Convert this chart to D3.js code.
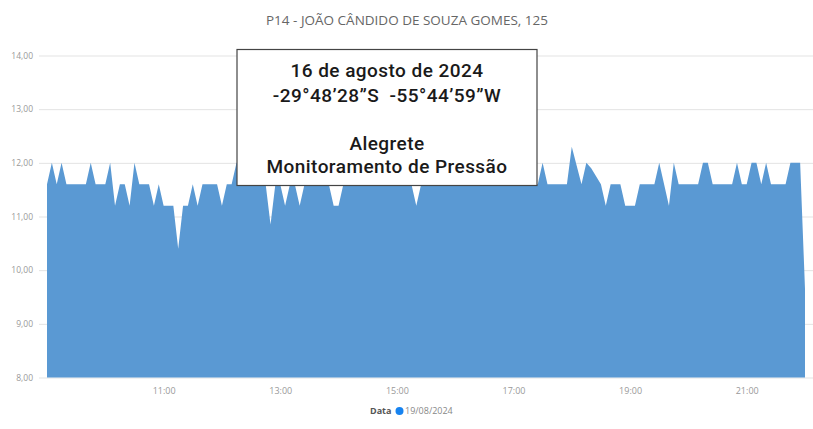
<!DOCTYPE html>
<html lang="pt-BR">
<head>
<meta charset="utf-8">
<title>P14 - Pressão</title>
<script src="https://cdn.jsdelivr.net/npm/d3@7"></script>
<style>
  html, body { margin: 0; padding: 0; background: #fff; }
  svg { display: block; }
</style>
</head>
<body>
<div id="chart"></div>
<script>
// series: one reading every 5 minutes, 09:00 -> 22:00
const chartTitle = "P14 - JOÃO CÂNDIDO DE SOUZA GOMES, 125";
const seriesName = "19/08/2024";
const startTime = "09:00";
const stepMinutes = 5;
const pressure = [
  11.6, 12.0, 11.6, 12.0, 11.6, 11.6, 11.6, 11.6, 11.6, 12.0,
  11.6, 11.6, 11.6, 12.0, 11.2, 11.6, 11.6, 11.2, 12.0, 11.6,
  11.6, 11.6, 11.2, 11.6, 11.2, 11.2, 11.2, 10.4, 11.2, 11.2,
  11.6, 11.2, 11.6, 11.6, 11.6, 11.6, 11.2, 11.6, 11.6, 12.0,
  12.0, 11.6, 12.0, 11.6, 11.6, 11.6, 10.85, 11.6, 11.6, 11.2,
  11.6, 11.6, 11.2, 11.6, 12.0, 11.6, 11.6, 12.0, 11.6, 11.2,
  11.2, 11.6, 11.6, 12.0, 11.6, 11.6, 11.6, 12.0, 11.6, 11.6,
  12.0, 11.6, 11.6, 11.6, 12.0, 11.6, 11.2, 11.6, 11.6, 12.0,
  11.6, 11.6, 11.6, 12.0, 11.6, 11.6, 12.0, 11.6, 11.6, 11.6,
  12.0, 11.6, 11.6, 12.0, 11.6, 11.6, 11.6, 12.0, 11.6, 11.6,
  11.6, 11.6, 12.0, 11.6, 11.6, 11.6, 11.6, 11.6, 12.3, 11.95,
  11.6, 12.0, 11.9, 11.75, 11.6, 11.2, 11.6, 11.6, 11.6, 11.2,
  11.2, 11.2, 11.6, 11.6, 11.6, 11.6, 12.0, 11.6, 11.2, 12.0,
  11.6, 11.6, 11.6, 11.6, 11.6, 12.0, 12.0, 11.6, 11.6, 11.6,
  11.6, 11.6, 12.0, 11.6, 11.6, 12.0, 12.0, 11.6, 12.0, 11.6,
  11.6, 11.6, 11.6, 12.0, 12.0, 12.0, 9.65
];
const yTicks = [8, 9, 10, 11, 12, 13, 14];
const xTickLabels = ["11:00", "13:00", "15:00", "17:00", "19:00", "21:00"];
const noteLines = [
  "16 de agosto de 2024",
  "-29°48’28”S  -55°44’59”W",
  "",
  "Alegrete",
  "Monitoramento de Pressão"
];

const W = 813, H = 429;
const parseTime = d3.timeParse("%H:%M");
const t0 = parseTime(startTime);
const records = pressure.map((v, i) => ({ time: d3.timeMinute.offset(t0, i * stepMinutes), value: v }));

const ptBR = d3.formatLocale({ decimal: ",", thousands: ".", grouping: [3], currency: ["R$", ""] });
const fmt = ptBR.format(".2f");

const svg = d3.select("#chart").append("svg")
  .attr("width", W).attr("height", H);

const x = d3.scaleTime()
  .domain([t0, parseTime("22:00")])
  .range([47, 805]);

const y = d3.scaleLinear()
  .domain([8, 14])
  .range([377.5, 55.5]);

// title
svg.append("text")
  .attr("x", 407).attr("y", 25)
  .attr("text-anchor", "middle")
  .style("font-family", "'Open Sans', sans-serif")
  .style("font-size", "13.5px")
  .style("fill", "#666")
  .text(chartTitle);

// y axis + gridlines
const yAxis = svg.append("g")
  .attr("transform", "translate(39,0)")
  .call(d3.axisLeft(y).tickValues(yTicks).tickFormat(fmt).tickSize(-(W - 39)).tickPadding(6));
yAxis.select(".domain").remove();
yAxis.selectAll("line").attr("stroke", "#e3e3e3");
yAxis.selectAll("text")
  .style("font-family", "'Open Sans', sans-serif")
  .style("font-size", "8.5px")
  .style("fill", "#999");

// area
const area = d3.area()
  .x(d => x(d.time))
  .y0(y(8))
  .y1(d => y(d.value));

svg.append("path")
  .datum(records)
  .attr("d", area)
  .attr("fill", "#5a99d3");

// x axis
const xAxis = svg.append("g")
  .attr("transform", "translate(0," + y(8) + ")")
  .call(d3.axisBottom(x).tickValues(xTickLabels.map(parseTime)).tickFormat(d3.timeFormat("%H:%M")).tickSize(0).tickPadding(10));
xAxis.select(".domain").remove();
xAxis.selectAll("text")
  .style("font-family", "'Open Sans', sans-serif")
  .style("font-size", "9px")
  .style("fill", "#999");

// legend
const legend = svg.append("g").attr("transform", "translate(370,411)");
legend.append("text")
  .attr("x", 0).attr("y", 3)
  .style("font-family", "'Open Sans', sans-serif")
  .style("font-size", "9px")
  .style("font-weight", "bold")
  .style("fill", "#555")
  .text("Data");
legend.append("circle")
  .attr("cx", 29.5).attr("cy", 0).attr("r", 4)
  .attr("fill", "#1783f0");
legend.append("text")
  .attr("x", 35).attr("y", 3)
  .style("font-family", "'Open Sans', sans-serif")
  .style("font-size", "9px")
  .style("fill", "#888")
  .text(seriesName);

// annotation box
const box = svg.append("g");
box.append("rect")
  .attr("x", 237).attr("y", 49.5)
  .attr("width", 300).attr("height", 136)
  .attr("fill", "#fff")
  .attr("stroke", "#444")
  .attr("stroke-width", 1.2);

const lineY = [77, 102, 125, 150, 172.5];
noteLines.forEach((t, i) => {
  box.append("text")
    .attr("x", 387).attr("y", lineY[i])
    .attr("text-anchor", "middle")
    .style("white-space", "pre")
    .style("font-family", "Roboto, sans-serif")
    .style("font-size", "19px")
    .style("font-weight", "500")
    .style("letter-spacing", "0.45px")
    .style("fill", "#1a1a1a")
    .text(t);
});
</script>
</body>
</html>
